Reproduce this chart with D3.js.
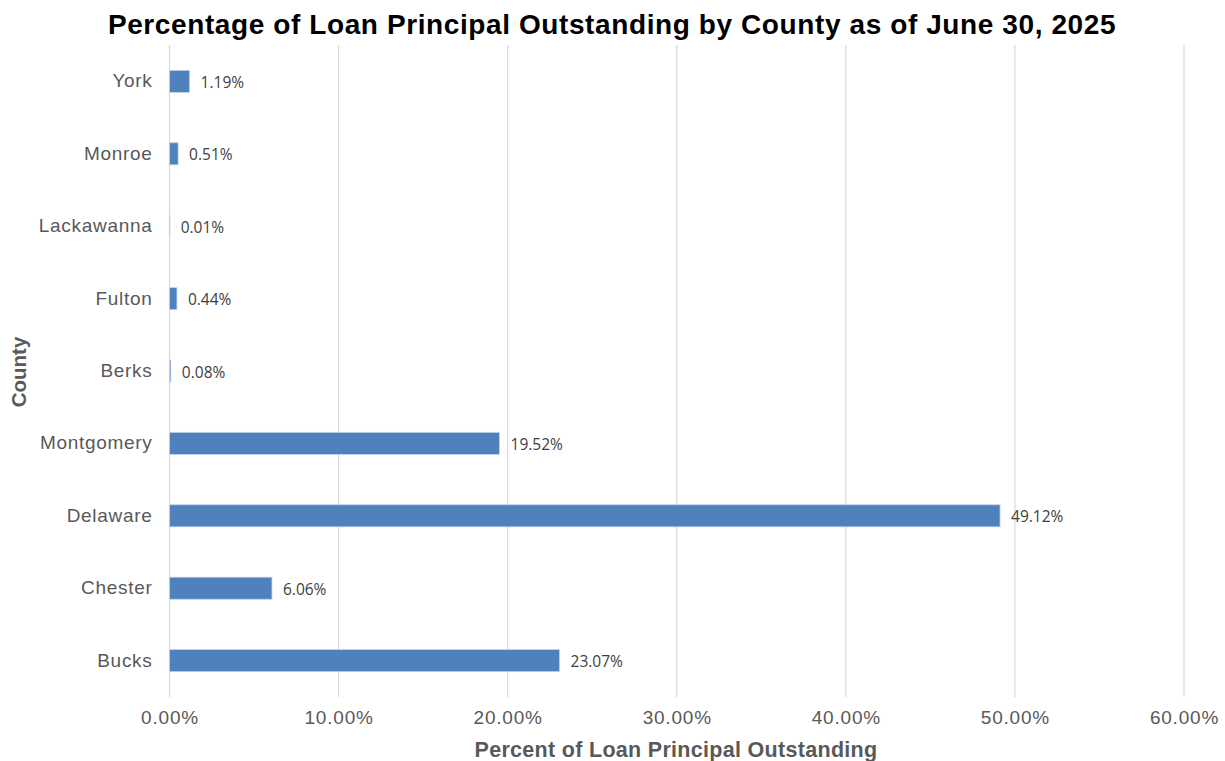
<!DOCTYPE html>
<html><head><meta charset="utf-8">
<script src="https://cdn.jsdelivr.net/npm/d3@7"></script>
<style>body{margin:0;background:#fff}</style>
</head><body>
<svg id="chart" width="1225" height="761"></svg>
<script>
const counties = ["York","Monroe","Lackawanna","Fulton","Berks","Montgomery","Delaware","Chester","Bucks"];
const values = [1.19,0.51,0.01,0.44,0.08,19.52,49.12,6.06,23.07];
const xTicks = [0,10,20,30,40,50,60];

const svg = d3.select("#chart");
const m = {left:169.5, right:1184, top:45, bottom:697};
const x = d3.scaleLinear().domain([0,60]).range([m.left,m.right]);
const y = d3.scaleBand().domain(counties).range([m.top,m.bottom]).paddingInner(0.695).paddingOuter(0.35);
const F = "'Liberation Sans', Arial, sans-serif";

// gridlines
svg.append("g").selectAll("line").data(xTicks).join("line")
  .attr("x1",d=>x(d)).attr("x2",d=>x(d)).attr("y1",m.top).attr("y2",m.bottom)
  .attr("stroke","#d9d9d9").attr("stroke-width",1.2);

// bars
svg.append("g").selectAll("rect").data(counties).join("rect")
  .attr("x",x(0)).attr("y",d=>y(d))
  .attr("width",(d,i)=>Math.max(0.5,x(values[i])-x(0)))
  .attr("height",y.bandwidth())
  .attr("fill","#4f81bd").attr("stroke","#c5d4ea").attr("stroke-width",0.8);

// value labels
svg.append("g").selectAll("text").data(counties).join("text")
  .attr("x",(d,i)=>x(values[i])+11).attr("y",d=>y(d)+y.bandwidth()/2+1)
  .attr("dy","0.36em")
  .attr("font-family","'Open Sans', sans-serif").attr("font-size",15.5)
  .attr("fill","#404040")
  .text((d,i)=>values[i].toFixed(2)+"%");

// y axis labels
const yAxis = d3.axisLeft(y).tickSize(0).tickPadding(17);
const gy = svg.append("g").attr("transform",`translate(${m.left},0)`).call(yAxis);
gy.select(".domain").remove();
gy.selectAll("text").attr("font-family",F).attr("font-size",19).attr("letter-spacing",0.7).attr("fill","#595959");

// x axis labels
const xAxis = d3.axisBottom(x).tickValues(xTicks).tickSize(0).tickPadding(14).tickFormat(d=>d.toFixed(2)+"%");
const gx = svg.append("g").attr("transform",`translate(0,${m.bottom})`).call(xAxis);
gx.select(".domain").remove();
gx.selectAll("text").attr("font-family",F).attr("font-size",19).attr("letter-spacing",0.8).attr("fill","#595959");

// titles
svg.append("text").attr("x",612).attr("y",34).attr("text-anchor","middle")
  .attr("font-family",F).attr("font-weight","bold").attr("font-size",28).attr("letter-spacing",0.6)
  .attr("fill","#000").text("Percentage of Loan Principal Outstanding by County as of June 30, 2025");
svg.append("text").attr("x",676).attr("y",757).attr("text-anchor","middle")
  .attr("font-family",F).attr("font-weight","bold").attr("font-size",21.5).attr("letter-spacing",0.3)
  .attr("fill","#595959").text("Percent of Loan Principal Outstanding");
svg.append("text").attr("transform","translate(26,372) rotate(-90)").attr("text-anchor","middle")
  .attr("font-family",F).attr("font-weight","bold").attr("font-size",20.5)
  .attr("fill","#595959").text("County");
</script>
</body></html>
